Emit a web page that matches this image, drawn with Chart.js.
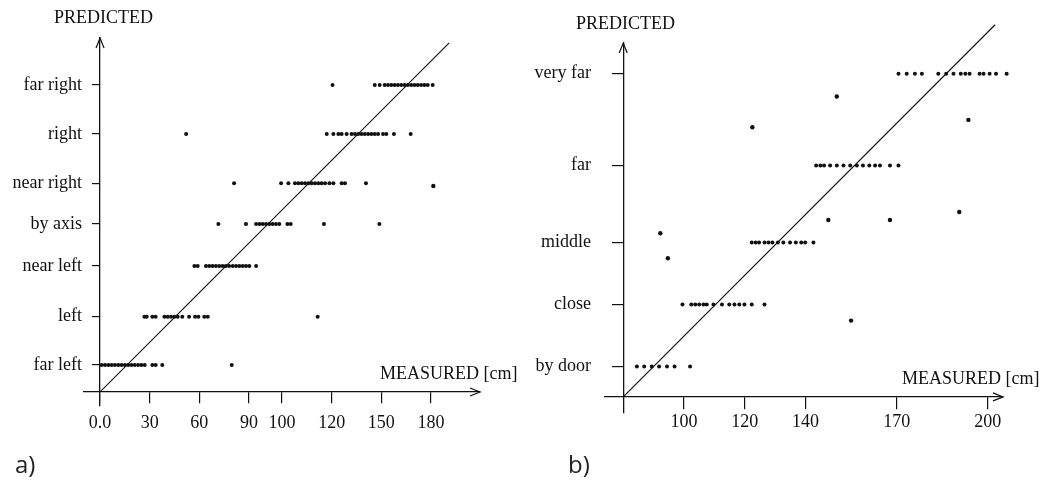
<!DOCTYPE html>
<html>
<head>
<meta charset="utf-8">
<script src="https://cdn.jsdelivr.net/npm/chart.js@4/dist/chart.umd.min.js"></script>
<style>
  body { margin: 0; background: #fff; width: 1046px; height: 489px; position: relative; overflow: hidden; }
  canvas { position: absolute; top: 0; }
  #ca { left: 0; }
  #cb { left: 530px; }
  .t { position: absolute; font-family: 'Liberation Serif', 'Times New Roman', serif; font-size: 18px; line-height: 1; color: #111; white-space: nowrap; }
  .p { position: absolute; font-family: 'Open Sans', sans-serif; font-size: 24px; line-height: 1; color: #222; }
</style>
</head>
<body>
<canvas id="ca" width="530" height="489"></canvas>
<canvas id="cb" width="516" height="489"></canvas>
<div class="t" style="left:54px; top:8px;">PREDICTED</div>
<div class="t" style="left:380px; top:364px;">MEASURED [cm]</div>
<div class="t" style="left:576px; top:14px;">PREDICTED</div>
<div class="t" style="left:902px; top:369px;">MEASURED [cm]</div>
<div class="p" style="left:15px; top:452px;">a)</div>
<div class="p" style="left:568px; top:452px;">b)</div>
<script>
// ---- a) lateral position ----
// the x axis of a) is printed with uneven labels, so ticks sit at positions with their own text
const xTickPosA = [0, 30, 60, 90, 110, 140, 170, 200];
const xTickTextA = ['0.0', '30', '60', '90', '100', '120', '150', '180'];
const levelsA = ['far left', 'left', 'near left', 'by axis', 'near right', 'right', 'far right'];
const levelPosA = [16.3, 45.5, 76.1, 101.5, 126.1, 155.9, 185.5];

const farLeftA = [1, 3, 5, 7, 9, 11, 13, 15, 17, 19, 21, 23, 25, 27, 31.6, 33.6, 37.6, 79.6];
const leftA = [26.8, 28.2, 31.6, 33.6, 38.9, 40.9, 42.9, 44.9, 46.9, 49.7, 53.8, 57.4, 59.4, 63, 65.1, 131.5];
const nearLeftA = [57, 59, 64, 66, 68, 70, 72, 74, 76, 78, 80.2, 82.2, 84.2, 86.2, 88.2, 90.2, 94.3];
const byAxisA = [71.5, 88.2, 94.3, 96.3, 98.3, 100.3, 102.3, 104.3, 106.3, 108.3, 113.2, 115.2, 135.3, 168.8];
const nearRightA = [81, 109.4, 113.8, 117.8, 119.8, 121.9, 123.9, 125.9, 127.9, 129.9, 131.9, 133.9, 136, 138.6, 141, 146, 148, 160.7];
const rightA = [52, 137, 141, 144, 146, 149, 152, 154, 156, 158, 160, 162, 164, 166, 168, 171, 173, 177.6, 187.7];
const farRightA = [140.5, 166, 169, 172, 174, 176, 178, 180, 182, 184, 186, 188, 190, 192, 194, 196, 198, 201];
const outXA = [201.4];
const outYA = [124.5];
const diagA = [0, 211];

// ---- b) distance ----
const xTickPosB = [100, 120, 140, 170, 200];
const xTickTextB = ['100', '120', '140', '170', '200'];
const levelsB = ['by door', 'close', 'middle', 'far', 'very far'];
const levelPosB = [90, 110.4, 130.8, 156.1, 186.3];

const byDoorB = [84.5, 86.9, 89.4, 91.8, 94.4, 96.9, 102];
const closeB = [99.5, 102.4, 103.7, 105, 106.4, 107.5, 109.7, 112.5, 114.9, 116.6, 118.2, 119.9, 122.3, 126.5];
const middleB = [122.3, 123.6, 124.7, 126.5, 127.8, 129.1, 130.9, 132.7, 134.9, 136.8, 138.6, 139.9, 142.6];
const farB = [143.5, 144.9, 146.1, 148.1, 150.3, 152.5, 154.7, 156.9, 158.9, 161, 162.9, 164.5, 167.8, 170.6];
const veryFarB = [170.6, 173.3, 176, 178.3, 183.7, 186.3, 188.7, 191.1, 192.6, 194, 197.3, 198.6, 200.6, 202.7, 206.2, 209];
const outXB = [92.2, 94.7, 122.5, 147.5, 150.3, 155, 167.8, 190.6, 193.6];
const outYB = [133.8, 125.6, 168.7, 138.2, 178.8, 105.1, 138.2, 140.8, 171.1];
const diagB = [80, 202.4];

Chart.defaults.font.family = "'Liberation Serif', 'Times New Roman', serif";
Chart.defaults.font.size = 18;
Chart.defaults.color = '#111';
Chart.defaults.plugins.legend.display = false;
Chart.defaults.plugins.tooltip.enabled = false;
Chart.defaults.animation = false;

function rowPoints(rows, levels) {
  const pts = [];
  rows.forEach((xs, i) => xs.forEach(x => pts.push({ x: x, y: levels[i] })));
  return pts;
}

// open arrow heads at the far ends of both axes
const arrowHeads = {
  id: 'arrowHeads',
  afterDraw(chart, args, opts) {
    const { ctx, chartArea: a, scales: { x, y } } = chart;
    const x0 = x.getPixelForValue(opts.origin);
    const y0 = y.getPixelForValue(opts.origin);
    ctx.save();
    ctx.strokeStyle = '#111';
    ctx.lineWidth = 1.2;
    ctx.beginPath();
    ctx.moveTo(a.right - 10, y0 - 4);
    ctx.lineTo(a.right, y0);
    ctx.lineTo(a.right - 10, y0 + 4);
    ctx.moveTo(x0 - 4, a.top + 10);
    ctx.lineTo(x0, a.top);
    ctx.lineTo(x0 + 4, a.top + 10);
    ctx.stroke();
    ctx.restore();
  }
};

// axis line + tick marks, crossing the other axis at the origin
function axis(pos, min, max, at, text, tl, pad) {
  return {
    type: 'linear',
    position: pos,
    min: min,
    max: max,
    afterBuildTicks: s => { s.ticks = at.map(v => ({ value: v })); },
    ticks: { display: text !== null, callback: (v, i) => text ? text[i] : '', padding: pad, autoSkip: false, maxRotation: 0, color: '#111' },
    grid: { drawOnChartArea: false, tickLength: tl, color: '#111', lineWidth: 1.2 },
    border: { color: '#111', width: 1.3 }
  };
}

// a left axis that only carries the level names, with a fixed width
function labelAxis(min, max, at, text, width, pad) {
  return {
    type: 'linear',
    position: 'left',
    min: min,
    max: max,
    afterBuildTicks: s => { s.ticks = at.map(v => ({ value: v })); },
    afterFit: s => { s.width = width; },
    ticks: { callback: (v, i) => text[i], padding: pad, autoSkip: false, color: '#111' },
    grid: { display: false, drawTicks: false },
    border: { display: false }
  };
}

function makeChart(id, rows, levels, outX, outY, diag, origin, xs, ys, yl, pad) {
  new Chart(document.getElementById(id), {
    type: 'scatter',
    data: {
      datasets: [
        { data: rowPoints(rows, levels), pointRadius: 2, backgroundColor: '#111', borderWidth: 0, clip: false },
        { data: outX.map((x, i) => ({ x: x, y: outY[i] })), pointRadius: 2.2, backgroundColor: '#111', borderWidth: 0, clip: false },
        { type: 'line', data: diag.map(v => ({ x: v, y: v })), borderColor: '#111', borderWidth: 1.1, pointRadius: 0, clip: false }
      ]
    },
    options: {
      responsive: false,
      layout: { padding: pad },
      scales: { x: xs, y: ys, yl: yl },
      plugins: { arrowHeads: { origin: origin } }
    },
    plugins: [arrowHeads]
  });
}

makeChart('ca',
  [farLeftA, leftA, nearLeftA, byAxisA, nearRightA, rightA, farRightA], levelPosA,
  outXA, outYA, diagA, 0,
  axis({ y: 0 }, -10, 229.6, xTickPosA, xTickTextA, 11, 10),
  axis({ x: 0 }, -8.5, 213.9, levelPosA, null, 7, 0),
  labelAxis(-8.5, 213.9, levelPosA, levelsA, 83.5, 1.5),
  { left: 0, right: 50, top: 38, bottom: 83 });

makeChart('cb',
  [byDoorB, closeB, middleB, farB, veryFarB], levelPosB,
  outXB, outYB, diagB, 80,
  axis({ y: 80 }, 74, 205, xTickPosB, xTickTextB, 12, 2.5),
  axis({ x: 80 }, 74.7, 196.4, levelPosB, null, 11, 0),
  labelAxis(74.7, 196.4, levelPosB, levelsB, 75, 14),
  { left: 0, right: 43, top: 43, bottom: 76 });
</script>
</body>
</html>
